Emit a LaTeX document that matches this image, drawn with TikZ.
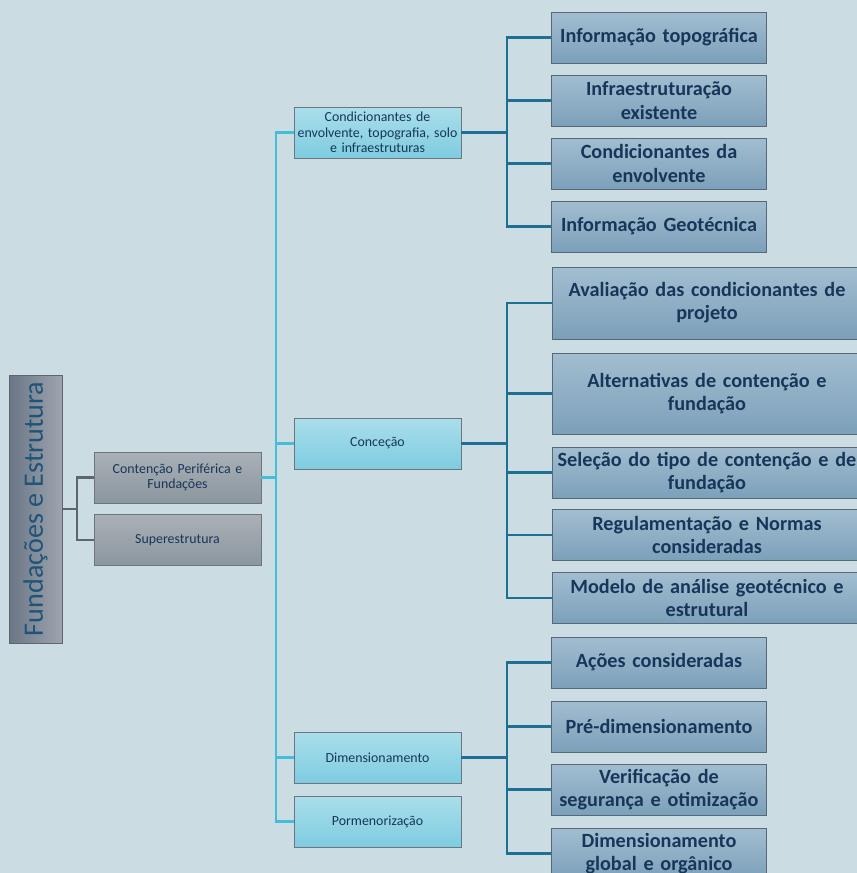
\documentclass[tikz,border=0pt]{standalone}
\usepackage{fontspec}
\setmainfont{Carlito}
\usepackage{tikz}

\definecolor{bgcol}{HTML}{CBDDE3}
\definecolor{navy}{HTML}{17365A}
\definecolor{rootblue}{HTML}{1F5478}
\definecolor{grayline}{HTML}{5E666D}
\definecolor{cyanline}{HTML}{45BDD9}
\definecolor{tealline}{HTML}{1E6F92}

\begin{document}
\begin{tikzpicture}[
    x=0.02cm, y=-0.02cm,
    rootbox/.style={draw=grayline, rotate=90, left color={rgb,255:red,106;green,118;blue,134},
        right color={rgb,255:red,158;green,164;blue,174}, minimum width=5.36cm, minimum height=1.06cm,
        text=rootblue, font=\fontsize{16}{18}\selectfont},
    graybox/.style={draw=grayline!90, top color={rgb,255:red,170;green,176;blue,182},
        bottom color={rgb,255:red,140;green,150;blue,158}, minimum width=3.34cm, minimum height=1.02cm,
        text width=3.25cm, align=center, inner sep=1pt, text=navy, font=\fontsize{7.9}{8.9}\selectfont},
    cyanbox/.style={graybox, top color={rgb,255:red,170;green,222;blue,235},
        bottom color={rgb,255:red,126;green,204;blue,224}},
    leafbox/.style={draw={rgb,255:red,88;green,104;blue,118}, top color={rgb,255:red,162;green,189;blue,208},
        bottom color={rgb,255:red,124;green,160;blue,186}, minimum width=4.28cm, minimum height=1.02cm,
        text width=4.24cm, align=center, inner sep=1pt, text=navy,
        font=\bfseries\fontsize{11.5}{13.2}\selectfont},
    wideleaf/.style={leafbox, minimum width=6.2cm, text width=6.1cm}
]

\clip (0,0) rectangle (857,873);
\fill[bgcol] (0,0) rectangle (857,873);

% root and first level
\node[rootbox]  (root) at (35.5,509)   {Fundações e Estrutura};
\node[graybox]  (cp)   at (177.5,477.5) {Contenção Periférica e\\Fundações};
\node[graybox]  (sup)  at (177.5,540)   {Superestrutura};

% second level
\node[cyanbox] (cond) at (377.5,132.5) {Condicionantes de\\envolvente, topografia, solo\\e infraestruturas};
\node[cyanbox] (conc) at (377.5,443.5) {Conceção};
\node[cyanbox] (dim)  at (377.5,757.5) {Dimensionamento};
\node[cyanbox] (porm) at (377.5,821.5) {Pormenorização};

% leaves of Condicionantes
\node[leafbox] (it) at (659,37.5)  {Informação topográfica};
\node[leafbox] (ie) at (659,100.5) {Infraestruturação\\existente};
\node[leafbox] (ce) at (659,163.5) {Condicionantes da\\envolvente};
\node[leafbox] (ig) at (659,226.5) {Informação Geotécnica};

% leaves of Conceção
\node[wideleaf, minimum height=1.44cm] (av) at (707,303)   {Avaliação das condicionantes de\\projeto};
\node[wideleaf, minimum height=1.62cm] (al) at (707,393.5) {Alternativas de contenção e\\fundação};
\node[wideleaf] (se) at (707,472.5) {Seleção do tipo de contenção e de\\fundação};
\node[wideleaf] (re) at (707,535)   {Regulamentação e Normas\\consideradas};
\node[wideleaf] (mo) at (707,598)   {Modelo de análise geotécnico e\\estrutural};

% leaves of Dimensionamento
\node[leafbox] (ac) at (659,662.5) {Ações consideradas};
\node[leafbox] (pd) at (659,726.5) {Pré-dimensionamento};
\node[leafbox] (vs) at (659,789.5) {Verificação de\\segurança e otimização};
\node[leafbox] (dg) at (659,853.5) {Dimensionamento\\global e orgânico};

% root to first level (rotated node: south points right)
\coordinate (r1) at (77,509);
\draw[grayline, line width=1.6pt] (root.south) -- (r1);
\draw[grayline, line width=1.6pt] (r1) |- (cp.west);
\draw[grayline, line width=1.6pt] (r1) |- (sup.west);

% first to second level
\coordinate (c1) at (276,477.5);
\draw[cyanline, line width=1.6pt] (cp.east) -- (c1);
\foreach \n in {cond,conc,dim,porm}
    \draw[cyanline, line width=1.6pt] (c1) |- (\n.west);

% second level to leaves
\coordinate (t1) at (507,132.5);
\coordinate (t2) at (507,443.5);
\coordinate (t3) at (507,757.5);
\draw[tealline, line width=2.1pt] (cond.east) -- (t1);
\draw[tealline, line width=2.1pt] (conc.east) -- (t2);
\draw[tealline, line width=2.1pt] (dim.east) -- (t3);
\foreach \n in {it,ie,ce,ig}
    \draw[tealline, line width=1.5pt] (t1) |- (\n.west);
\foreach \n in {av,al,se,re,mo}
    \draw[tealline, line width=1.5pt] (t2) |- (\n.west);
\foreach \n in {ac,pd,vs,dg}
    \draw[tealline, line width=1.5pt] (t3) |- (\n.west);

\end{tikzpicture}
\end{document}
